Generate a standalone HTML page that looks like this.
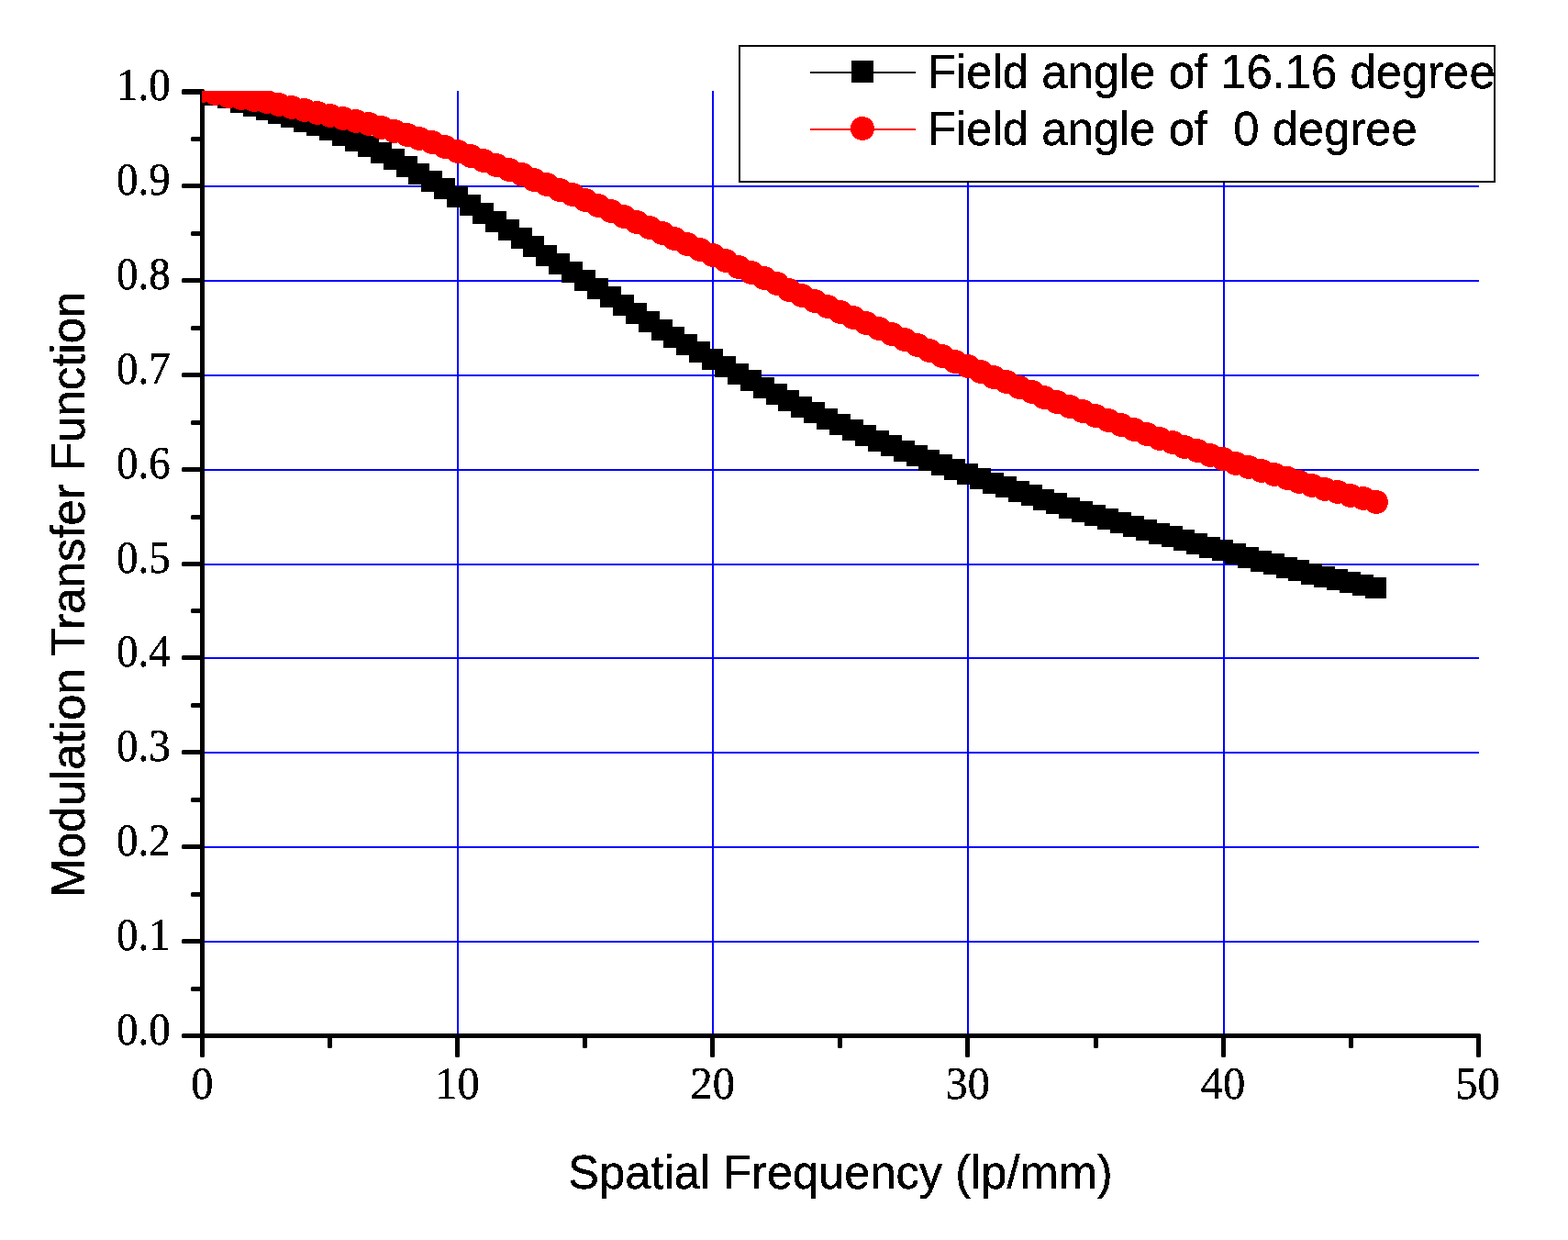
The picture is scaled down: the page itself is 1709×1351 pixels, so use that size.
<!DOCTYPE html>
<html lang="en"><head><meta charset="utf-8"><title>Modulation Transfer Function vs Spatial Frequency</title>
<style>
html,body{margin:0;padding:0;background:#fff;}
body{width:1709px;height:1351px;overflow:hidden;}
svg{display:block;}
.sans{font-family:"Liberation Sans", Arial, Helvetica, sans-serif;}
.serif{font-family:"Liberation Serif", "Times New Roman", Times, serif;}
text{fill:#000;white-space:pre;}
</style></head><body>
<svg width="1709" height="1351" viewBox="0 0 1709 1351" role="img" aria-label="Modulation Transfer Function versus Spatial Frequency for field angles of 16.16 and 0 degree">
<rect x="0" y="0" width="1709" height="1351" fill="#ffffff"/>
<defs><clipPath id="plotclip"><rect x="220" y="99" width="1393" height="1032"/></clipPath>
<filter id="hard" filterUnits="userSpaceOnUse" x="0" y="0" width="1709" height="1351" color-interpolation-filters="sRGB"><feComponentTransfer><feFuncA type="discrete" tableValues="0 1 1 1"/></feComponentTransfer></filter>
</defs>
<g fill="#0000ff" shape-rendering="crispEdges">
<rect x="223" y="202" width="1389" height="2"/>
<rect x="223" y="305" width="1389" height="2"/>
<rect x="223" y="408" width="1389" height="2"/>
<rect x="223" y="511" width="1389" height="2"/>
<rect x="223" y="614" width="1389" height="2"/>
<rect x="223" y="716" width="1389" height="2"/>
<rect x="223" y="819" width="1389" height="2"/>
<rect x="223" y="922" width="1389" height="2"/>
<rect x="223" y="1025" width="1389" height="2"/>
<rect x="498" y="99" width="2" height="1027"/>
<rect x="776" y="99" width="2" height="1027"/>
<rect x="1054" y="99" width="2" height="1027"/>
<rect x="1333" y="99" width="2" height="1027"/>
</g>
<g fill="#000000">
<rect x="218" y="97" width="5" height="1055" rx="1.5"/>
<rect x="198" y="1126" width="1416" height="5" rx="1.5"/>
<rect x="198" y="1023" width="22" height="5" rx="1.5"/>
<rect x="198" y="920" width="22" height="5" rx="1.5"/>
<rect x="198" y="817" width="22" height="5" rx="1.5"/>
<rect x="198" y="714" width="22" height="5" rx="1.5"/>
<rect x="198" y="612" width="22" height="5" rx="1.5"/>
<rect x="198" y="509" width="22" height="5" rx="1.5"/>
<rect x="198" y="406" width="22" height="5" rx="1.5"/>
<rect x="198" y="303" width="22" height="5" rx="1.5"/>
<rect x="198" y="200" width="22" height="5" rx="1.5"/>
<rect x="198" y="97" width="24" height="6" rx="1.5"/>
<rect x="208" y="149" width="12" height="5" rx="1.5"/>
<rect x="208" y="252" width="12" height="5" rx="1.5"/>
<rect x="208" y="355" width="12" height="5" rx="1.5"/>
<rect x="208" y="458" width="12" height="5" rx="1.5"/>
<rect x="208" y="561" width="12" height="5" rx="1.5"/>
<rect x="208" y="663" width="12" height="5" rx="1.5"/>
<rect x="208" y="766" width="12" height="5" rx="1.5"/>
<rect x="208" y="869" width="12" height="5" rx="1.5"/>
<rect x="208" y="972" width="12" height="5" rx="1.5"/>
<rect x="208" y="1075" width="12" height="5" rx="1.5"/>
<rect x="496" y="1128" width="5" height="24" rx="1.5"/>
<rect x="774" y="1128" width="5" height="24" rx="1.5"/>
<rect x="1052" y="1128" width="5" height="24" rx="1.5"/>
<rect x="1331" y="1128" width="5" height="24" rx="1.5"/>
<rect x="1609" y="1128" width="5" height="24" rx="1.5"/>
<rect x="357" y="1128" width="5" height="14" rx="1.5"/>
<rect x="635" y="1128" width="5" height="14" rx="1.5"/>
<rect x="913" y="1128" width="5" height="14" rx="1.5"/>
<rect x="1192" y="1128" width="5" height="14" rx="1.5"/>
<rect x="1470" y="1128" width="5" height="14" rx="1.5"/>
</g>
<g clip-path="url(#plotclip)" shape-rendering="crispEdges">
<g fill="#000000">
<rect x="209" y="89" width="23" height="23"/>
<rect x="223" y="92" width="23" height="23"/>
<rect x="237" y="95" width="23" height="23"/>
<rect x="251" y="100" width="23" height="23"/>
<rect x="265" y="104" width="23" height="23"/>
<rect x="279" y="108" width="23" height="23"/>
<rect x="292" y="112" width="23" height="23"/>
<rect x="306" y="116" width="23" height="23"/>
<rect x="320" y="121" width="23" height="23"/>
<rect x="334" y="125" width="23" height="23"/>
<rect x="348" y="130" width="23" height="23"/>
<rect x="362" y="136" width="23" height="23"/>
<rect x="376" y="142" width="23" height="23"/>
<rect x="390" y="148" width="23" height="23"/>
<rect x="404" y="155" width="23" height="23"/>
<rect x="418" y="162" width="23" height="23"/>
<rect x="432" y="170" width="23" height="23"/>
<rect x="445" y="178" width="23" height="23"/>
<rect x="459" y="186" width="23" height="23"/>
<rect x="473" y="194" width="23" height="23"/>
<rect x="487" y="203" width="23" height="23"/>
<rect x="501" y="212" width="23" height="23"/>
<rect x="515" y="221" width="23" height="23"/>
<rect x="529" y="230" width="23" height="23"/>
<rect x="543" y="239" width="23" height="23"/>
<rect x="557" y="248" width="23" height="23"/>
<rect x="570" y="257" width="23" height="23"/>
<rect x="584" y="267" width="23" height="23"/>
<rect x="598" y="276" width="23" height="23"/>
<rect x="612" y="285" width="23" height="23"/>
<rect x="626" y="294" width="23" height="23"/>
<rect x="640" y="303" width="23" height="23"/>
<rect x="654" y="312" width="23" height="23"/>
<rect x="668" y="321" width="23" height="23"/>
<rect x="682" y="330" width="23" height="23"/>
<rect x="696" y="339" width="23" height="23"/>
<rect x="710" y="348" width="23" height="23"/>
<rect x="723" y="356" width="23" height="23"/>
<rect x="737" y="364" width="23" height="23"/>
<rect x="751" y="372" width="23" height="23"/>
<rect x="765" y="380" width="23" height="23"/>
<rect x="779" y="388" width="23" height="23"/>
<rect x="793" y="396" width="23" height="23"/>
<rect x="807" y="403" width="23" height="23"/>
<rect x="821" y="411" width="23" height="23"/>
<rect x="835" y="418" width="23" height="23"/>
<rect x="848" y="425" width="23" height="23"/>
<rect x="862" y="432" width="23" height="23"/>
<rect x="876" y="438" width="23" height="23"/>
<rect x="890" y="445" width="23" height="23"/>
<rect x="904" y="451" width="23" height="23"/>
<rect x="918" y="457" width="23" height="23"/>
<rect x="932" y="463" width="23" height="23"/>
<rect x="946" y="469" width="23" height="23"/>
<rect x="960" y="474" width="23" height="23"/>
<rect x="974" y="480" width="23" height="23"/>
<rect x="988" y="485" width="23" height="23"/>
<rect x="1001" y="490" width="23" height="23"/>
<rect x="1015" y="495" width="23" height="23"/>
<rect x="1029" y="500" width="23" height="23"/>
<rect x="1043" y="505" width="23" height="23"/>
<rect x="1057" y="510" width="23" height="23"/>
<rect x="1071" y="515" width="23" height="23"/>
<rect x="1085" y="519" width="23" height="23"/>
<rect x="1099" y="524" width="23" height="23"/>
<rect x="1113" y="528" width="23" height="23"/>
<rect x="1126" y="533" width="23" height="23"/>
<rect x="1140" y="537" width="23" height="23"/>
<rect x="1154" y="542" width="23" height="23"/>
<rect x="1168" y="546" width="23" height="23"/>
<rect x="1182" y="550" width="23" height="23"/>
<rect x="1196" y="554" width="23" height="23"/>
<rect x="1210" y="558" width="23" height="23"/>
<rect x="1224" y="562" width="23" height="23"/>
<rect x="1238" y="566" width="23" height="23"/>
<rect x="1252" y="570" width="23" height="23"/>
<rect x="1266" y="573" width="23" height="23"/>
<rect x="1279" y="577" width="23" height="23"/>
<rect x="1293" y="581" width="23" height="23"/>
<rect x="1307" y="585" width="23" height="23"/>
<rect x="1321" y="588" width="23" height="23"/>
<rect x="1335" y="592" width="23" height="23"/>
<rect x="1349" y="596" width="23" height="23"/>
<rect x="1363" y="600" width="23" height="23"/>
<rect x="1377" y="603" width="23" height="23"/>
<rect x="1391" y="607" width="23" height="23"/>
<rect x="1404" y="610" width="23" height="23"/>
<rect x="1418" y="614" width="23" height="23"/>
<rect x="1432" y="617" width="23" height="23"/>
<rect x="1446" y="620" width="23" height="23"/>
<rect x="1460" y="623" width="23" height="23"/>
<rect x="1474" y="626" width="23" height="23"/>
<rect x="1488" y="629" width="23" height="23"/>
</g>
<g fill="#ff0000">
<circle cx="221" cy="99" r="13"/>
<circle cx="235" cy="102" r="13"/>
<circle cx="249" cy="105" r="13"/>
<circle cx="263" cy="107" r="13"/>
<circle cx="277" cy="109" r="13"/>
<circle cx="291" cy="111" r="13"/>
<circle cx="304" cy="114" r="13"/>
<circle cx="318" cy="117" r="13"/>
<circle cx="332" cy="120" r="13"/>
<circle cx="346" cy="123" r="13"/>
<circle cx="360" cy="126" r="13"/>
<circle cx="374" cy="129" r="13"/>
<circle cx="388" cy="132" r="13"/>
<circle cx="402" cy="135" r="13"/>
<circle cx="416" cy="139" r="13"/>
<circle cx="430" cy="143" r="13"/>
<circle cx="444" cy="147" r="13"/>
<circle cx="457" cy="151" r="13"/>
<circle cx="471" cy="155" r="13"/>
<circle cx="485" cy="160" r="13"/>
<circle cx="499" cy="165" r="13"/>
<circle cx="513" cy="170" r="13"/>
<circle cx="527" cy="175" r="13"/>
<circle cx="541" cy="180" r="13"/>
<circle cx="555" cy="185" r="13"/>
<circle cx="569" cy="190" r="13"/>
<circle cx="582" cy="196" r="13"/>
<circle cx="596" cy="201" r="13"/>
<circle cx="610" cy="207" r="13"/>
<circle cx="624" cy="212" r="13"/>
<circle cx="638" cy="218" r="13"/>
<circle cx="652" cy="224" r="13"/>
<circle cx="666" cy="230" r="13"/>
<circle cx="680" cy="236" r="13"/>
<circle cx="694" cy="242" r="13"/>
<circle cx="708" cy="248" r="13"/>
<circle cx="722" cy="254" r="13"/>
<circle cx="735" cy="260" r="13"/>
<circle cx="749" cy="266" r="13"/>
<circle cx="763" cy="272" r="13"/>
<circle cx="777" cy="278" r="13"/>
<circle cx="791" cy="284" r="13"/>
<circle cx="805" cy="291" r="13"/>
<circle cx="819" cy="297" r="13"/>
<circle cx="833" cy="303" r="13"/>
<circle cx="847" cy="309" r="13"/>
<circle cx="860" cy="316" r="13"/>
<circle cx="874" cy="322" r="13"/>
<circle cx="888" cy="328" r="13"/>
<circle cx="902" cy="334" r="13"/>
<circle cx="916" cy="340" r="13"/>
<circle cx="930" cy="346" r="13"/>
<circle cx="944" cy="352" r="13"/>
<circle cx="958" cy="358" r="13"/>
<circle cx="972" cy="364" r="13"/>
<circle cx="986" cy="370" r="13"/>
<circle cx="1000" cy="376" r="13"/>
<circle cx="1013" cy="382" r="13"/>
<circle cx="1027" cy="388" r="13"/>
<circle cx="1041" cy="394" r="13"/>
<circle cx="1055" cy="399" r="13"/>
<circle cx="1069" cy="405" r="13"/>
<circle cx="1083" cy="411" r="13"/>
<circle cx="1097" cy="416" r="13"/>
<circle cx="1111" cy="422" r="13"/>
<circle cx="1125" cy="427" r="13"/>
<circle cx="1138" cy="433" r="13"/>
<circle cx="1152" cy="438" r="13"/>
<circle cx="1166" cy="443" r="13"/>
<circle cx="1180" cy="448" r="13"/>
<circle cx="1194" cy="453" r="13"/>
<circle cx="1208" cy="458" r="13"/>
<circle cx="1222" cy="463" r="13"/>
<circle cx="1236" cy="468" r="13"/>
<circle cx="1250" cy="473" r="13"/>
<circle cx="1264" cy="478" r="13"/>
<circle cx="1278" cy="482" r="13"/>
<circle cx="1291" cy="487" r="13"/>
<circle cx="1305" cy="491" r="13"/>
<circle cx="1319" cy="496" r="13"/>
<circle cx="1333" cy="500" r="13"/>
<circle cx="1347" cy="505" r="13"/>
<circle cx="1361" cy="509" r="13"/>
<circle cx="1375" cy="513" r="13"/>
<circle cx="1389" cy="517" r="13"/>
<circle cx="1403" cy="521" r="13"/>
<circle cx="1416" cy="525" r="13"/>
<circle cx="1430" cy="529" r="13"/>
<circle cx="1444" cy="533" r="13"/>
<circle cx="1458" cy="536" r="13"/>
<circle cx="1472" cy="540" r="13"/>
<circle cx="1486" cy="543" r="13"/>
<circle cx="1500" cy="547" r="13"/>
</g>
</g>
<g>
<rect x="806" y="50" width="823" height="148" fill="#ffffff" stroke="#000000" stroke-width="2" shape-rendering="crispEdges"/>
<g shape-rendering="crispEdges">
<rect x="883" y="78" width="115" height="2" fill="#000"/>
<rect x="928" y="66" width="24" height="24" fill="#000"/>
<rect x="883" y="140" width="115" height="2" fill="#ff0000"/>
<circle cx="940" cy="140" r="13" fill="#ff0000"/>
</g>
<g filter="url(#hard)">
<text class="sans" font-size="52" transform="translate(1010.9 96) scale(0.9775 1)" xml:space="preserve">Field angle of 16.16 degree</text>
<text class="sans" font-size="52" transform="translate(1010.9 158) scale(0.9775 1)" xml:space="preserve">Field angle of  0 degree</text>
</g>
</g>
<g class="serif" font-size="50.5" filter="url(#hard)">
<text transform="translate(127.1 109) scale(0.929 1)">1.0</text>
<text transform="translate(127.1 212.1) scale(0.929 1)">0.9</text>
<text transform="translate(127.1 315.1) scale(0.929 1)">0.8</text>
<text transform="translate(127.1 418.1) scale(0.929 1)">0.7</text>
<text transform="translate(127.1 521.1) scale(0.929 1)">0.6</text>
<text transform="translate(127.1 624.1) scale(0.929 1)">0.5</text>
<text transform="translate(127.1 726.1) scale(0.929 1)">0.4</text>
<text transform="translate(127.1 829.1) scale(0.929 1)">0.3</text>
<text transform="translate(127.1 932.1) scale(0.929 1)">0.2</text>
<text transform="translate(127.1 1035.1) scale(0.929 1)">0.1</text>
<text transform="translate(127.1 1138.1) scale(0.929 1)">0.0</text>
<text text-anchor="middle" transform="translate(220.3 1197.1) scale(0.96 1)">0</text>
<text text-anchor="middle" transform="translate(498.4 1197.1) scale(0.96 1)">10</text>
<text text-anchor="middle" transform="translate(776.8 1197.1) scale(0.96 1)">20</text>
<text text-anchor="middle" transform="translate(1054.8 1197.1) scale(0.96 1)">30</text>
<text text-anchor="middle" transform="translate(1332.9 1197.1) scale(0.96 1)">40</text>
<text text-anchor="middle" transform="translate(1610.6 1197.1) scale(0.96 1)">50</text>
</g>
<g filter="url(#hard)">
<text class="sans" font-size="52" text-anchor="middle" transform="translate(916 1295) scale(0.9732 1)">Spatial Frequency (lp/mm)</text>
<text class="sans" font-size="52" text-anchor="middle" transform="translate(92 647.5) rotate(-90) scale(0.98 1)">Modulation Transfer Function</text>
</g>
</svg>
</body></html>
